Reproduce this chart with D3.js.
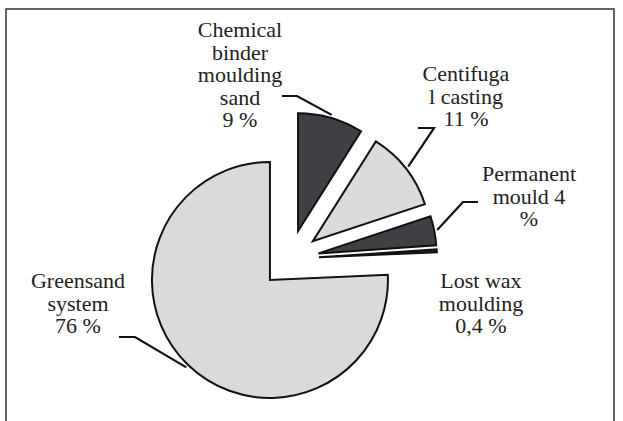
<!DOCTYPE html>
<html>
<head>
<meta charset="utf-8">
<script src="https://cdn.jsdelivr.net/npm/d3@7"></script>
<style>
  html, body { margin: 0; padding: 0; background: #fff; }
  svg { display: block; }
</style>
</head>
<body>
<svg id="chart" width="623" height="421"></svg>
<script>
// ---- data ----
const categories = ["Chemical binder moulding sand", "Centifugal casting", "Permanent mould", "Lost wax moulding", "Greensand system"];
const values = [9, 11, 4, 0.4, 76];
const labelLines = [
  ["Chemical", "binder", "moulding", "sand", "9 %"],
  ["Centifuga", "l casting", "11 %"],
  ["Permanent", "mould 4", "%"],
  ["Lost wax", "moulding", "0,4 %"],
  ["Greensand", "system", "76 %"]
];
const fills = ["#404144", "#d9dadc", "#404144", "#2b2b2d", "#d9dadc"];

// ---- layout (annotation positions) ----
const labelLayout = [
  { x: 240, y: 37,  elbow: [282, 297, 96] },
  { x: 466, y: 81,  elbow: [418, 434, 128] },
  { x: 529, y: 181, elbow: [478, 463, 202] },
  { x: 481, y: 288, elbow: null },
  { x: 78,  y: 288, elbow: [119, 135, 337] }
];

const svg = d3.select("#chart");
const W = 623, H = 421;
const cx = 290, cy = 259, R = 118, explode = 29;

// frame
svg.append("path")
  .attr("d", `M6,${H + 5} L6,9 L614,9 L614,${H + 5}`)
  .attr("fill", "none").attr("stroke", "#333").attr("stroke-width", 1.5);

const pie = d3.pie().sort(null).value(d => d)(values);
const arc = d3.arc().innerRadius(0).outerRadius(R);

const g = svg.append("g").attr("transform", `translate(${cx},${cy})`);

pie.forEach((p, i) => {
  const mid = (p.startAngle + p.endAngle) / 2;
  const dx = explode * Math.sin(mid), dy = -explode * Math.cos(mid);
  g.append("path")
    .attr("d", arc(p))
    .attr("transform", `translate(${dx},${dy})`)
    .attr("fill", fills[i])
    .attr("stroke", "#111")
    .attr("stroke-width", 2)
    .attr("stroke-linejoin", "miter");
});

// leader lines
pie.forEach((p, i) => {
  const L = labelLayout[i];
  if (!L.elbow) return;
  const mid = (p.startAngle + p.endAngle) / 2;
  const rr = explode + R + 3;
  const ex = cx + rr * Math.sin(mid), ey = cy - rr * Math.cos(mid);
  const [x1, x2, y] = L.elbow;
  svg.append("path")
    .attr("d", `M${x1},${y} L${x2},${y} L${ex},${ey}`)
    .attr("fill", "none").attr("stroke", "#111").attr("stroke-width", 2.2);
});

// labels: one text element per line
labelLines.forEach((lines, i) => {
  const L = labelLayout[i];
  lines.forEach((s, k) => {
    svg.append("text")
      .attr("x", L.x)
      .attr("y", L.y + k * 22.5)
      .attr("text-anchor", "middle")
      .style("font-family", '"Liberation Serif"')
      .style("font-size", "22px")
      .style("fill", "#222")
      .text(s);
  });
});
</script>
</body>
</html>
